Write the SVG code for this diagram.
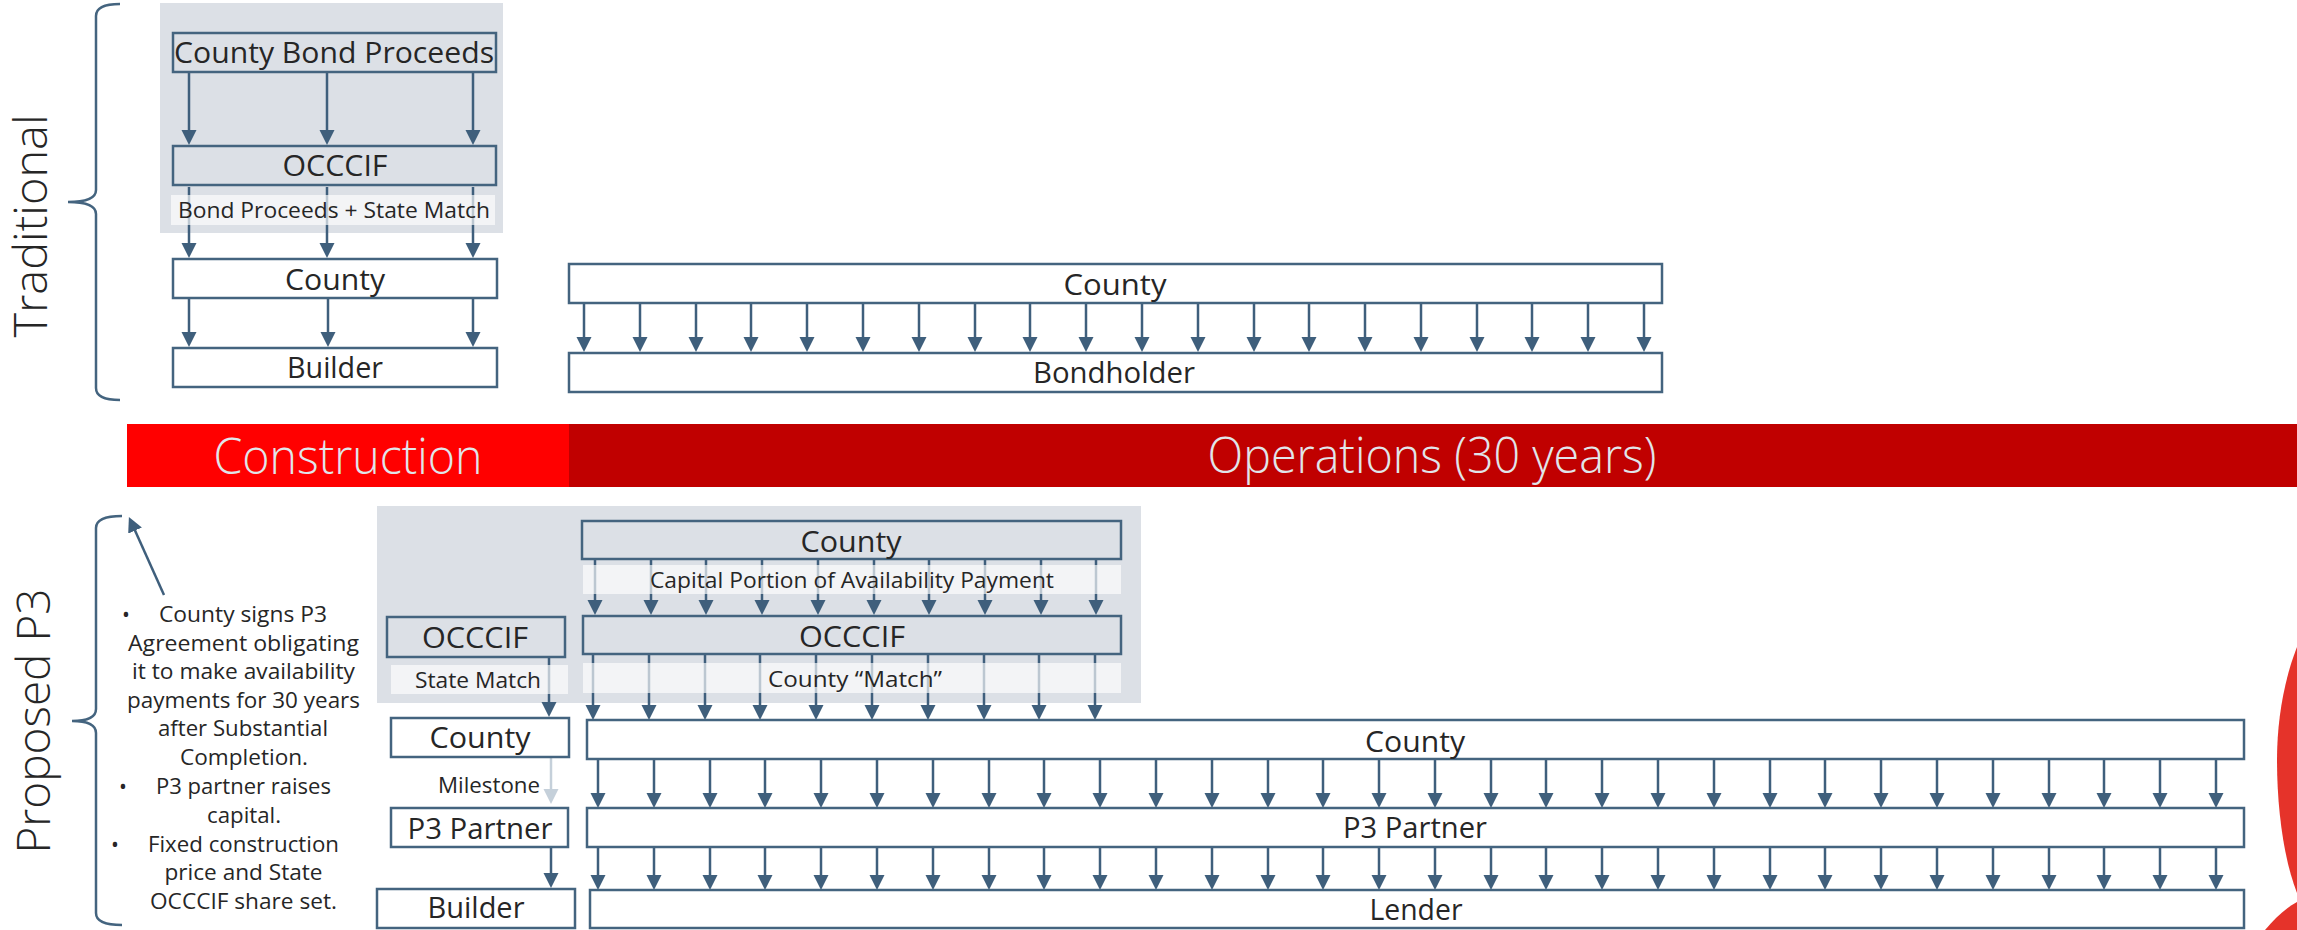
<svg xmlns="http://www.w3.org/2000/svg" width="2297" height="930" viewBox="0 0 2297 930">
<defs>
<style>
.box{stroke:#44647F;stroke-width:2.5}
.gf{fill:#DCE0E6}
.wf{fill:#FFFFFF}
.panel{fill:#DCE0E6}
.lblbg{fill:#FFFFFF;fill-opacity:0.65}
.t{font-family:"Open Sans","Noto Sans","Liberation Sans",sans-serif;font-size:30px;fill:#262626;text-anchor:middle}
.s{font-size:22px}
.b{font-size:21px}
.light{font-family:"Open Sans","Lato","Noto Sans",sans-serif;font-weight:300;font-size:49px;fill:#E1E5EA;text-anchor:middle}
.side{font-family:"Open Sans","Lato","Noto Sans",sans-serif;font-weight:300;font-size:46px;fill:#262626;text-anchor:middle}
.arr{stroke:#3F5F7C;stroke-width:2.5;marker-end:url(#ah)}
.arrl{stroke:#C5D0DA;stroke-width:2.5;marker-end:url(#ahl)}
.brace{fill:none;stroke:#44647F;stroke-width:2.5}
</style>
<marker id="ah" markerUnits="userSpaceOnUse" markerWidth="16" markerHeight="16" viewBox="0 0 16 16" refX="5" refY="8" orient="auto"><path d="M0,0.5 L15,8 L0,15.5 z" fill="#3F5F7C"/></marker>
<marker id="ahl" markerUnits="userSpaceOnUse" markerWidth="16" markerHeight="16" viewBox="0 0 16 16" refX="5" refY="8" orient="auto"><path d="M0,0.5 L15,8 L0,15.5 z" fill="#C5D0DA"/></marker>
</defs>

<rect width="2297" height="930" fill="#FFFFFF"/>

<!-- panels -->
<g id="panels">
<rect class="panel" x="160" y="3" width="343" height="230"/>
<rect class="panel" x="377" y="506" width="764" height="197"/>
</g>

<!-- side labels and braces -->
<g id="traditional-label">
<path class="brace" d="M120,4 Q96,4 96,16 L96,190 Q96,202 68,202 Q96,202 96,214 L96,388 Q96,400 120,400"/>
<text class="side" transform="translate(47,226) rotate(-90)" textLength="223" lengthAdjust="spacingAndGlyphs">Traditional</text>
</g>
<g id="p3-label">
<path class="brace" d="M122,516 Q96,516 96,528 L96,709 Q96,721 72,721 Q96,721 96,733 L96,913 Q96,925 122,925"/>
<text class="side" transform="translate(50,721) rotate(-90)" textLength="265" lengthAdjust="spacingAndGlyphs">Proposed P3</text>
</g>

<!-- timeline band -->
<g id="timeline">
<rect x="127" y="424" width="442" height="63" fill="#FF0000"/>
<rect x="569" y="424" width="1728" height="63" fill="#C00000"/>
<text class="light" x="348" y="474" textLength="269" lengthAdjust="spacingAndGlyphs">Construction</text>
<text class="light" x="1432" y="473" textLength="449" lengthAdjust="spacingAndGlyphs">Operations (30 years)</text>
</g>

<!-- connectors -->
<g id="connectors">
<!-- traditional construction -->
<line class="arr" x1="189" y1="72" x2="189" y2="135"/>
<line class="arr" x1="327" y1="72" x2="327" y2="135"/>
<line class="arr" x1="473" y1="72" x2="473" y2="135"/>
<line class="arr" x1="189" y1="187" x2="189" y2="248"/>
<line class="arr" x1="327" y1="187" x2="327" y2="248"/>
<line class="arr" x1="473" y1="187" x2="473" y2="248"/>
<line class="arr" x1="189" y1="298" x2="189" y2="337"/>
<line class="arr" x1="328" y1="298" x2="328" y2="337"/>
<line class="arr" x1="473" y1="298" x2="473" y2="337"/>
<!-- traditional operations -->
<line class="arr" x1="584" y1="303" x2="584" y2="342"/>
<line class="arr" x1="640" y1="303" x2="640" y2="342"/>
<line class="arr" x1="696" y1="303" x2="696" y2="342"/>
<line class="arr" x1="751" y1="303" x2="751" y2="342"/>
<line class="arr" x1="807" y1="303" x2="807" y2="342"/>
<line class="arr" x1="863" y1="303" x2="863" y2="342"/>
<line class="arr" x1="919" y1="303" x2="919" y2="342"/>
<line class="arr" x1="975" y1="303" x2="975" y2="342"/>
<line class="arr" x1="1030" y1="303" x2="1030" y2="342"/>
<line class="arr" x1="1086" y1="303" x2="1086" y2="342"/>
<line class="arr" x1="1142" y1="303" x2="1142" y2="342"/>
<line class="arr" x1="1198" y1="303" x2="1198" y2="342"/>
<line class="arr" x1="1254" y1="303" x2="1254" y2="342"/>
<line class="arr" x1="1309" y1="303" x2="1309" y2="342"/>
<line class="arr" x1="1365" y1="303" x2="1365" y2="342"/>
<line class="arr" x1="1421" y1="303" x2="1421" y2="342"/>
<line class="arr" x1="1477" y1="303" x2="1477" y2="342"/>
<line class="arr" x1="1532" y1="303" x2="1532" y2="342"/>
<line class="arr" x1="1588" y1="303" x2="1588" y2="342"/>
<line class="arr" x1="1644" y1="303" x2="1644" y2="342"/>
<!-- P3: County -> OCCCIF -->
<line class="arr" x1="595" y1="559" x2="595" y2="605"/>
<line class="arr" x1="651" y1="559" x2="651" y2="605"/>
<line class="arr" x1="706" y1="559" x2="706" y2="605"/>
<line class="arr" x1="762" y1="559" x2="762" y2="605"/>
<line class="arr" x1="818" y1="559" x2="818" y2="605"/>
<line class="arr" x1="874" y1="559" x2="874" y2="605"/>
<line class="arr" x1="929" y1="559" x2="929" y2="605"/>
<line class="arr" x1="985" y1="559" x2="985" y2="605"/>
<line class="arr" x1="1041" y1="559" x2="1041" y2="605"/>
<line class="arr" x1="1096" y1="559" x2="1096" y2="605"/>
<!-- P3: OCCCIF -> County -->
<line class="arr" x1="593" y1="654" x2="593" y2="710"/>
<line class="arr" x1="649" y1="654" x2="649" y2="710"/>
<line class="arr" x1="705" y1="654" x2="705" y2="710"/>
<line class="arr" x1="760" y1="654" x2="760" y2="710"/>
<line class="arr" x1="816" y1="654" x2="816" y2="710"/>
<line class="arr" x1="872" y1="654" x2="872" y2="710"/>
<line class="arr" x1="928" y1="654" x2="928" y2="710"/>
<line class="arr" x1="984" y1="654" x2="984" y2="710"/>
<line class="arr" x1="1039" y1="654" x2="1039" y2="710"/>
<line class="arr" x1="1095" y1="654" x2="1095" y2="710"/>
<!-- P3 construction -->
<line class="arr" x1="549" y1="657" x2="549" y2="707"/>
<line class="arrl" x1="551" y1="757" x2="551" y2="794"/>
<line class="arr" x1="551" y1="837" x2="551" y2="878"/>
<!-- P3: County -> P3 Partner -->
<line class="arr" x1="598" y1="759" x2="598" y2="798"/>
<line class="arr" x1="654" y1="759" x2="654" y2="798"/>
<line class="arr" x1="710" y1="759" x2="710" y2="798"/>
<line class="arr" x1="765" y1="759" x2="765" y2="798"/>
<line class="arr" x1="821" y1="759" x2="821" y2="798"/>
<line class="arr" x1="877" y1="759" x2="877" y2="798"/>
<line class="arr" x1="933" y1="759" x2="933" y2="798"/>
<line class="arr" x1="989" y1="759" x2="989" y2="798"/>
<line class="arr" x1="1044" y1="759" x2="1044" y2="798"/>
<line class="arr" x1="1100" y1="759" x2="1100" y2="798"/>
<line class="arr" x1="1156" y1="759" x2="1156" y2="798"/>
<line class="arr" x1="1212" y1="759" x2="1212" y2="798"/>
<line class="arr" x1="1268" y1="759" x2="1268" y2="798"/>
<line class="arr" x1="1323" y1="759" x2="1323" y2="798"/>
<line class="arr" x1="1379" y1="759" x2="1379" y2="798"/>
<line class="arr" x1="1435" y1="759" x2="1435" y2="798"/>
<line class="arr" x1="1491" y1="759" x2="1491" y2="798"/>
<line class="arr" x1="1546" y1="759" x2="1546" y2="798"/>
<line class="arr" x1="1602" y1="759" x2="1602" y2="798"/>
<line class="arr" x1="1658" y1="759" x2="1658" y2="798"/>
<line class="arr" x1="1714" y1="759" x2="1714" y2="798"/>
<line class="arr" x1="1770" y1="759" x2="1770" y2="798"/>
<line class="arr" x1="1825" y1="759" x2="1825" y2="798"/>
<line class="arr" x1="1881" y1="759" x2="1881" y2="798"/>
<line class="arr" x1="1937" y1="759" x2="1937" y2="798"/>
<line class="arr" x1="1993" y1="759" x2="1993" y2="798"/>
<line class="arr" x1="2049" y1="759" x2="2049" y2="798"/>
<line class="arr" x1="2104" y1="759" x2="2104" y2="798"/>
<line class="arr" x1="2160" y1="759" x2="2160" y2="798"/>
<line class="arr" x1="2216" y1="759" x2="2216" y2="798"/>
<!-- P3: P3 Partner -> Lender -->
<line class="arr" x1="598" y1="847" x2="598" y2="880"/>
<line class="arr" x1="654" y1="847" x2="654" y2="880"/>
<line class="arr" x1="710" y1="847" x2="710" y2="880"/>
<line class="arr" x1="765" y1="847" x2="765" y2="880"/>
<line class="arr" x1="821" y1="847" x2="821" y2="880"/>
<line class="arr" x1="877" y1="847" x2="877" y2="880"/>
<line class="arr" x1="933" y1="847" x2="933" y2="880"/>
<line class="arr" x1="989" y1="847" x2="989" y2="880"/>
<line class="arr" x1="1044" y1="847" x2="1044" y2="880"/>
<line class="arr" x1="1100" y1="847" x2="1100" y2="880"/>
<line class="arr" x1="1156" y1="847" x2="1156" y2="880"/>
<line class="arr" x1="1212" y1="847" x2="1212" y2="880"/>
<line class="arr" x1="1268" y1="847" x2="1268" y2="880"/>
<line class="arr" x1="1323" y1="847" x2="1323" y2="880"/>
<line class="arr" x1="1379" y1="847" x2="1379" y2="880"/>
<line class="arr" x1="1435" y1="847" x2="1435" y2="880"/>
<line class="arr" x1="1491" y1="847" x2="1491" y2="880"/>
<line class="arr" x1="1546" y1="847" x2="1546" y2="880"/>
<line class="arr" x1="1602" y1="847" x2="1602" y2="880"/>
<line class="arr" x1="1658" y1="847" x2="1658" y2="880"/>
<line class="arr" x1="1714" y1="847" x2="1714" y2="880"/>
<line class="arr" x1="1770" y1="847" x2="1770" y2="880"/>
<line class="arr" x1="1825" y1="847" x2="1825" y2="880"/>
<line class="arr" x1="1881" y1="847" x2="1881" y2="880"/>
<line class="arr" x1="1937" y1="847" x2="1937" y2="880"/>
<line class="arr" x1="1993" y1="847" x2="1993" y2="880"/>
<line class="arr" x1="2049" y1="847" x2="2049" y2="880"/>
<line class="arr" x1="2104" y1="847" x2="2104" y2="880"/>
<line class="arr" x1="2160" y1="847" x2="2160" y2="880"/>
<line class="arr" x1="2216" y1="847" x2="2216" y2="880"/>
<!-- leader from notes to brace -->
<line class="arr" x1="164" y1="595" x2="133" y2="526"/>
</g>

<!-- edge labels -->
<g id="edge-labels">
<rect class="lblbg" x="171" y="195" width="324" height="30"/>
<text class="t s" x="334" y="218" textLength="312" lengthAdjust="spacingAndGlyphs">Bond Proceeds + State Match</text>
<rect class="lblbg" x="583" y="565" width="538" height="29"/>
<text class="t s" x="852" y="588" textLength="404" lengthAdjust="spacingAndGlyphs">Capital Portion of Availability Payment</text>
<rect class="lblbg" x="583" y="663" width="538" height="30"/>
<text class="t s" x="855" y="687" textLength="174" lengthAdjust="spacingAndGlyphs">County “Match”</text>
<rect class="lblbg" x="391" y="665" width="177" height="29"/>
<text class="t s" x="478" y="688" textLength="126" lengthAdjust="spacingAndGlyphs">State Match</text>
<text class="t b" x="540" y="793" style="text-anchor:end" textLength="102" lengthAdjust="spacingAndGlyphs">Milestone</text>
</g>

<!-- traditional nodes -->
<g id="trad-county-bond-proceeds">
<rect class="box gf" x="173" y="33" width="323" height="39"/>
<text class="t" x="334" y="63" textLength="320" lengthAdjust="spacingAndGlyphs">County Bond Proceeds</text>
</g>
<g id="trad-occcif">
<rect class="box gf" x="173" y="146" width="323" height="39"/>
<text class="t" x="335" y="176" textLength="105" lengthAdjust="spacingAndGlyphs">OCCCIF</text>
</g>
<g id="trad-county">
<rect class="box wf" x="173" y="259" width="324" height="39"/>
<text class="t" x="335" y="290" textLength="100" lengthAdjust="spacingAndGlyphs">County</text>
</g>
<g id="trad-builder">
<rect class="box wf" x="173" y="348" width="324" height="39"/>
<text class="t" x="335" y="378" textLength="96" lengthAdjust="spacingAndGlyphs">Builder</text>
</g>
<g id="trad-county-ops">
<rect class="box wf" x="569" y="264" width="1093" height="39"/>
<text class="t" x="1115" y="295" textLength="103" lengthAdjust="spacingAndGlyphs">County</text>
</g>
<g id="trad-bondholder">
<rect class="box wf" x="569" y="353" width="1093" height="39"/>
<text class="t" x="1114" y="383" textLength="162" lengthAdjust="spacingAndGlyphs">Bondholder</text>
</g>

<!-- P3 nodes -->
<g id="p3-county-top">
<rect class="box gf" x="582" y="521" width="539" height="38"/>
<text class="t" x="851" y="552" textLength="101" lengthAdjust="spacingAndGlyphs">County</text>
</g>
<g id="p3-occcif-ops">
<rect class="box gf" x="583" y="616" width="538" height="38"/>
<text class="t" x="852" y="647" textLength="106" lengthAdjust="spacingAndGlyphs">OCCCIF</text>
</g>
<g id="p3-occcif-con">
<rect class="box gf" x="387" y="617" width="178" height="40"/>
<text class="t" x="475" y="648" textLength="106" lengthAdjust="spacingAndGlyphs">OCCCIF</text>
</g>
<g id="p3-county-con">
<rect class="box wf" x="391" y="718" width="178" height="39"/>
<text class="t" x="480" y="748" textLength="101" lengthAdjust="spacingAndGlyphs">County</text>
</g>
<g id="p3-partner-con">
<rect class="box wf" x="391" y="808" width="177" height="39"/>
<text class="t" x="480" y="839" textLength="145" lengthAdjust="spacingAndGlyphs">P3 Partner</text>
</g>
<g id="p3-builder">
<rect class="box wf" x="377" y="889" width="198" height="39"/>
<text class="t" x="476" y="918" textLength="97" lengthAdjust="spacingAndGlyphs">Builder</text>
</g>
<g id="p3-county-ops">
<rect class="box wf" x="587" y="720" width="1657" height="39"/>
<text class="t" x="1415" y="752" textLength="100" lengthAdjust="spacingAndGlyphs">County</text>
</g>
<g id="p3-partner-ops">
<rect class="box wf" x="587" y="808" width="1657" height="39"/>
<text class="t" x="1415" y="838" textLength="144" lengthAdjust="spacingAndGlyphs">P3 Partner</text>
</g>
<g id="p3-lender">
<rect class="box wf" x="590" y="890" width="1654" height="38"/>
<text class="t" x="1416" y="920" textLength="93" lengthAdjust="spacingAndGlyphs">Lender</text>
</g>

<!-- notes -->
<g id="p3-notes">
<text class="t b" x="126" y="622">•</text>
<text class="t b" x="123" y="794">•</text>
<text class="t b" x="115" y="852">•</text>
<text class="t b" x="243" y="622" textLength="168" lengthAdjust="spacingAndGlyphs">County signs P3</text>
<text class="t b" x="243.5" y="651" textLength="231" lengthAdjust="spacingAndGlyphs">Agreement obligating</text>
<text class="t b" x="243.5" y="679" textLength="223" lengthAdjust="spacingAndGlyphs">it to make availability</text>
<text class="t b" x="243.5" y="708" textLength="233" lengthAdjust="spacingAndGlyphs">payments for 30 years</text>
<text class="t b" x="243" y="736" textLength="170" lengthAdjust="spacingAndGlyphs">after Substantial</text>
<text class="t b" x="244" y="765" textLength="128" lengthAdjust="spacingAndGlyphs">Completion.</text>
<text class="t b" x="243.5" y="794" textLength="175" lengthAdjust="spacingAndGlyphs">P3 partner raises</text>
<text class="t b" x="244" y="823" textLength="74" lengthAdjust="spacingAndGlyphs">capital.</text>
<text class="t b" x="243.5" y="852" textLength="191" lengthAdjust="spacingAndGlyphs">Fixed construction</text>
<text class="t b" x="243.5" y="880" textLength="158" lengthAdjust="spacingAndGlyphs">price and State</text>
<text class="t b" x="243.5" y="909" textLength="187" lengthAdjust="spacingAndGlyphs">OCCCIF share set.</text>
</g>

<!-- red shape at right edge -->
<g id="edge-shape" fill="#E5332A">
<path d="M2297,647 C2284,680 2277,720 2277,760 C2277,810 2284,860 2297,893 Z"/>
<path d="M2265,930 C2275,918 2286,908 2297,902 L2297,930 Z"/>
</g>
</svg>
